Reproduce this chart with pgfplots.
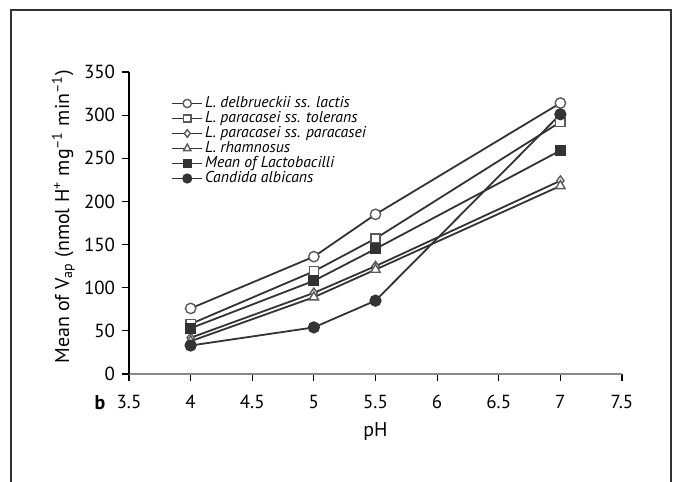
\documentclass[border=0pt]{standalone}
\usepackage{fontspec}
\setmainfont{PT Sans}
\usepackage{pgfplots}
\pgfplotsset{compat=1.18}
\definecolor{linegray}{HTML}{333333}
\definecolor{markgray}{HTML}{5A5A5A}
\definecolor{axisgray}{HTML}{8A8A8A}
\begin{document}
\begin{tikzpicture}
\begin{axis}[
  at={(0,0)}, anchor=south west,
  scale only axis, width=246.5bp, height=151bp,
  xmin=3.5, xmax=7.5, ymin=0, ymax=350,
  xtick={3.5,4,...,7.5}, ytick={0,50,...,350},
  axis lines*=left,
  x axis line style={axisgray, line width=1bp, -},
  y axis line style={black, line width=0.6bp, -},
  tick style={black, line width=0.6bp},
  tick align=outside, major tick length=3.5bp,
  /pgf/number format/assume math mode=true,
  tick label style={font=\fontsize{9.5}{11}\selectfont},
  xticklabel style={yshift=-3.5bp},
  xlabel={pH}, ylabel={Mean of V\textsubscript{ap} (nmol H\textsuperscript{+} mg\textsuperscript{–1} min\textsuperscript{–1})},
  label style={font=\fontsize{9.5}{11}\selectfont},
  every axis x label/.style={at={(axis description cs:0.5,-0.189)}, anchor=center},
  every axis y label/.style={at={(axis description cs:-0.133,0.52)}, anchor=center, rotate=90},
  clip=false,
  legend style={at={(rel axis cs:0.073,0.935)}, anchor=north west, draw=none, fill=none,
    font=\fontsize{7.9}{8}\selectfont\itshape, row sep=0pt,
    nodes={text height=5.4bp, text depth=1.5bp, inner ysep=0.3bp, inner xsep=1bp}},
  legend cell align=left,
  legend image code/.code={\draw[mark repeat=2, mark phase=2] plot coordinates {(0bp,0bp) (7.5bp,0bp) (15bp,0bp)};},
  every legend image post/.style={every mark/.append style={scale=0.8}},
  every axis plot/.append style={linegray, line width=0.9bp},
]
\addplot[mark=*, mark size=2.6bp, mark options={draw=markgray, fill=white, line width=0.7bp}]
  coordinates {(4,76) (5,136) (5.5,185) (7,314)};
\addlegendentry{L. delbrueckii ss. lactis}
\addplot[mark=square*, mark size=2.3bp, mark options={draw=markgray, fill=white, line width=0.7bp}]
  coordinates {(4,58) (5,119) (5.5,157) (7,292)};
\addlegendentry{L. paracasei ss. tolerans}
\addplot[mark=diamond*, mark size=2.4bp, mark options={draw=markgray, fill=white, line width=0.7bp}]
  coordinates {(4,42) (5,94) (5.5,125) (7,224)};
\addlegendentry{L. paracasei ss. paracasei}
\addplot[mark=triangle*, mark size=2.7bp, mark options={draw=markgray, fill=white, line width=0.7bp}]
  coordinates {(4,38) (5,89) (5.5,121) (7,218)};
\addlegendentry{L. rhamnosus}
\addplot[mark=square*, mark size=2.3bp, mark options={draw=linegray, fill=linegray}]
  coordinates {(4,53) (5,108) (5.5,145) (7,259)};
\addlegendentry{Mean of Lactobacilli}
\addplot[mark=*, mark size=2.6bp, mark options={draw=linegray, fill=linegray}]
  coordinates {(4,33) (5,54) (5.5,85) (7,301)};
\addlegendentry{Candida albicans}
\node[font=\fontsize{10}{12}\selectfont\bfseries] at (rel axis cs:-0.059,-0.096) {b};
\end{axis}
\path[use as bounding box] (-64.5bp,-54bp) rectangle (272.5bp,187bp);
\draw[black!80, line width=0.7bp] (-59bp,-54bp) -- (-59bp,182bp) -- (271bp,182bp);
\draw[black!80, line width=1.1bp] (271bp,182.35bp) -- (271bp,-54bp);
\end{tikzpicture}
\end{document}
